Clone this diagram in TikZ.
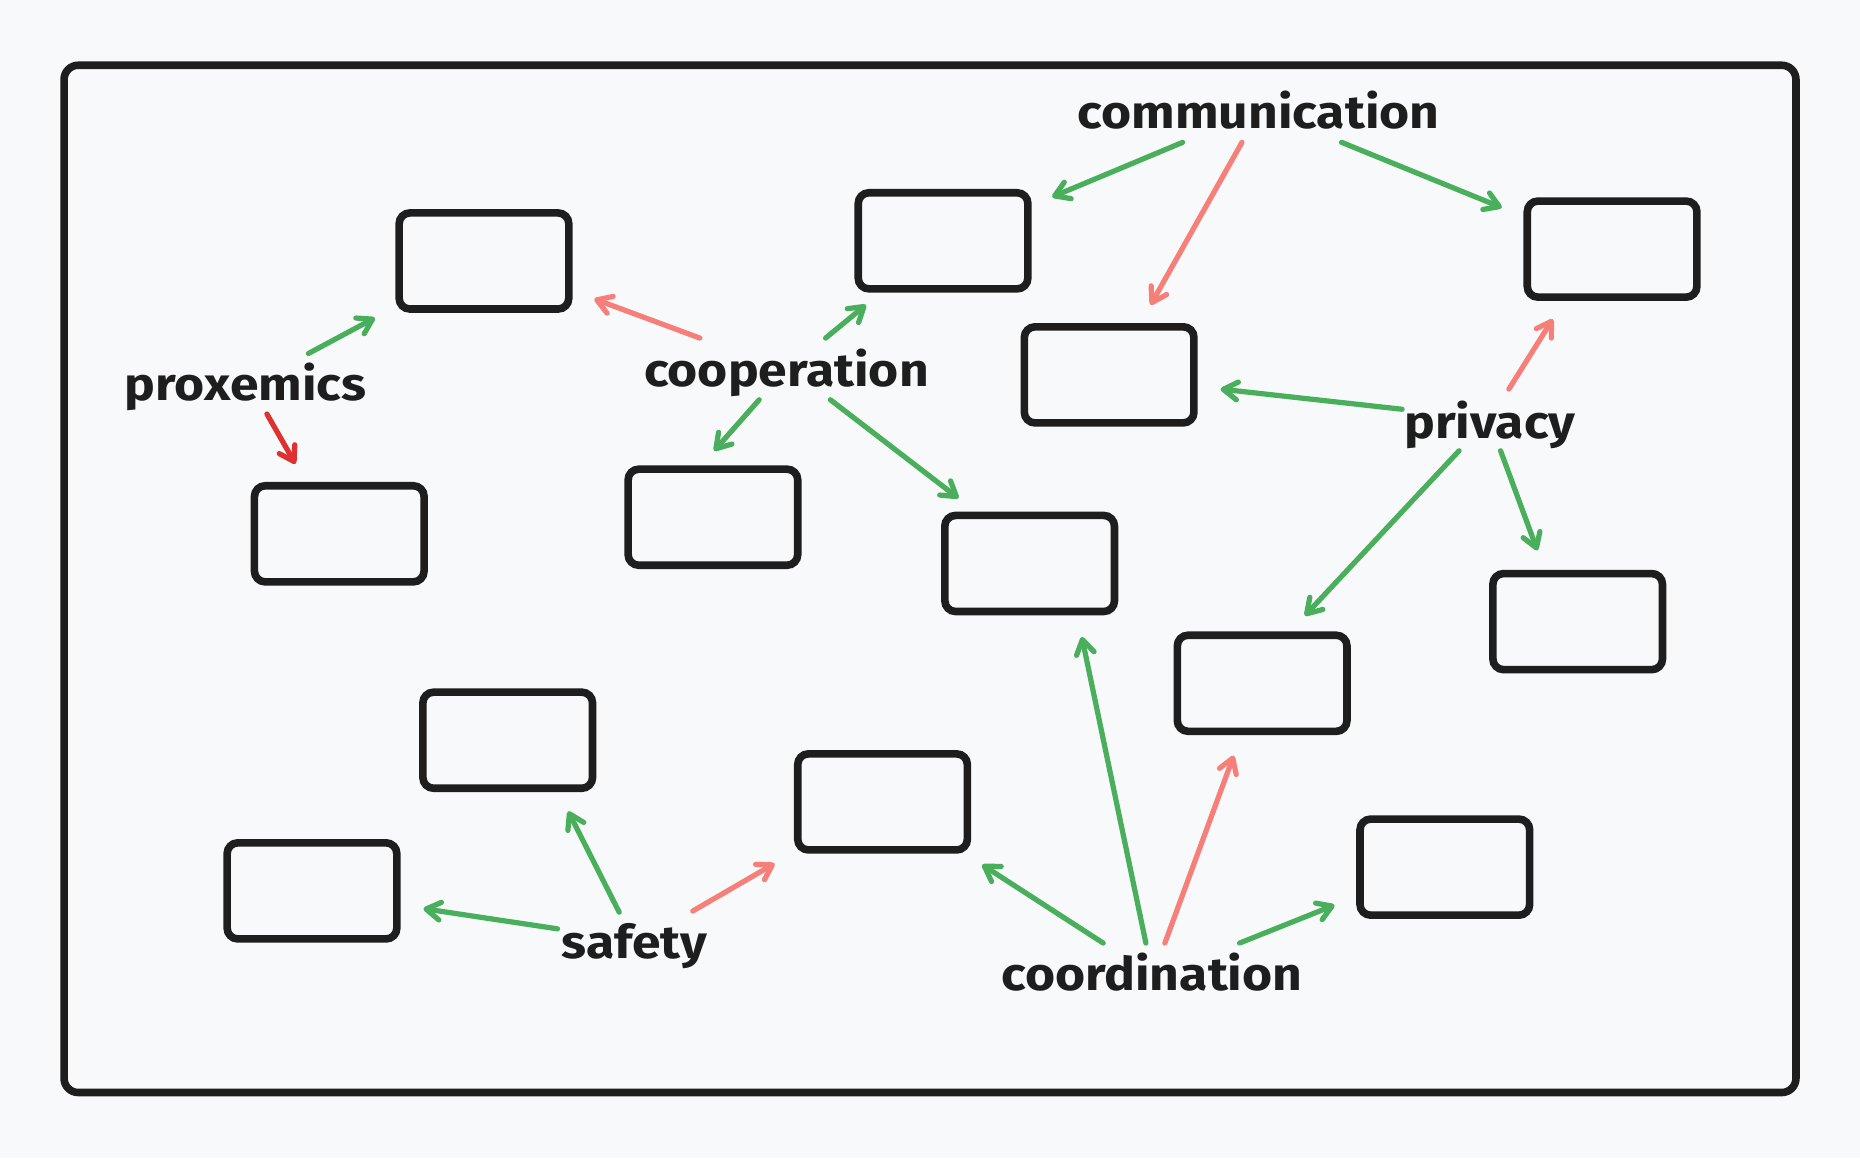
\documentclass[tikz,border=0pt]{standalone}
\usepackage{fontspec}
\newfontfamily\lblfont{Fira Sans}
\usetikzlibrary{arrows.meta}
\definecolor{bg}{HTML}{F8F9FA}
\definecolor{ink}{HTML}{1E1E1E}
\definecolor{grn}{HTML}{4AAF5C}
\definecolor{pnk}{HTML}{F77F7A}
\definecolor{dred}{HTML}{E03131}
\newcommand\widelbl[1]{\scalebox{1.115}[1]{#1}}
\begin{document}
\begin{tikzpicture}[x=0.5pt,y=-0.5pt,
  box/.style={draw=ink, line width=3.2pt, rounded corners=4.5pt, minimum width=71.5pt, minimum height=40.5pt, inner sep=0pt},
  lbl/.style={font=\lblfont\bfseries\fontsize{19.5}{19.5}\selectfont, text=ink, inner sep=0pt, anchor=base},
  con/.style={line width=2.2pt, line cap=round, -{Straight Barb[length=6pt,width=7.5pt,line cap=round,line join=round]}},
  ok/.style={con, draw=grn},
  bad/.style={con, draw=pnk},
  worse/.style={con, draw=dred}]
\fill[bg] (0,0) rectangle (1568,976.2);
\useasboundingbox (0,0) rectangle (1568,976.2);
\draw[ink, line width=3.2pt, rounded corners=6pt] (54,55) rectangle (1514,921);
% boxes
\node[box] (b1) at (408,220) {};
\node[box] (b2) at (286,450) {};
\node[box] (b3) at (601,436) {};
\node[box] (b4) at (795,203) {};
\node[box] (b5) at (868,475) {};
\node[box] (b6) at (935,316) {};
\node[box] (b7) at (1359,210) {};
\node[box] (b8) at (1064,576) {};
\node[box] (b9) at (1330,524) {};
\node[box] (b10) at (428,624) {};
\node[box] (b11) at (263,751) {};
\node[box] (b12) at (744,676) {};
\node[box] (b13) at (1218,731) {};
% labels
\node[lbl] (prox) at (207,338) {\widelbl{proxemics}};
\node[lbl] (coop) at (663,326) {\widelbl{cooperation}};
\node[lbl] (comm) at (1061,108) {\widelbl{communication}};
\node[lbl] (priv) at (1256,370) {\widelbl{privacy}};
\node[lbl] (safe) at (535,808) {\widelbl{safety}};
\node[lbl] (coord) at (971,835) {\widelbl{coordination}};
% connectors
\draw[ok] ([shift={(53,-40)}]prox.base) -- ([shift={(-92,48)}]b1.center);
\draw[worse] ([shift={(18,11)}]prox.base) -- ([shift={(-37,-59)}]b2.center);
\draw[bad] ([shift={(-73,-41)}]coop.base) -- ([shift={(93,32)}]b1.center);
\draw[ok] ([shift={(33,-41)}]coop.base) -- ([shift={(-65,54)}]b4.center);
\draw[ok] ([shift={(-23,11)}]coop.base) -- ([shift={(1,-56)}]b3.center);
\draw[ok] ([shift={(37,11)}]coop.base) -- ([shift={(-60,-55)}]b5.center);
\draw[ok] ([shift={(-64,12)}]comm.base) -- ([shift={(92,-37)}]b4.center);
\draw[bad] ([shift={(-14,12)}]comm.base) -- ([shift={(35,-59)}]b6.center);
\draw[ok] ([shift={(70,12)}]comm.base) -- ([shift={(-93,-35)}]b7.center);
\draw[bad] ([shift={(16,-42)}]priv.base) -- ([shift={(-50,59)}]b7.center);
\draw[ok] ([shift={(-74,-25)}]priv.base) -- ([shift={(94,12)}]b6.center);
\draw[ok] ([shift={(-26,10)}]priv.base) -- ([shift={(36,-57)}]b8.center);
\draw[ok] ([shift={(9,10)}]priv.base) -- ([shift={(-34,-60)}]b9.center);
\draw[ok] ([shift={(-65,-25)}]safe.base) -- ([shift={(94,15)}]b11.center);
\draw[ok] ([shift={(-13,-39)}]safe.base) -- ([shift={(51,60)}]b10.center);
\draw[bad] ([shift={(49,-40)}]safe.base) -- ([shift={(-91,52)}]b12.center);
\draw[ok] ([shift={(-41,-40)}]coord.base) -- ([shift={(84,53)}]b12.center);
\draw[ok] ([shift={(-5,-40)}]coord.base) -- ([shift={(44,62)}]b5.center);
\draw[bad] ([shift={(11,-40)}]coord.base) -- ([shift={(-24,61)}]b8.center);
\draw[ok] ([shift={(74,-40)}]coord.base) -- ([shift={(-93,32)}]b13.center);
\end{tikzpicture}
\end{document}
